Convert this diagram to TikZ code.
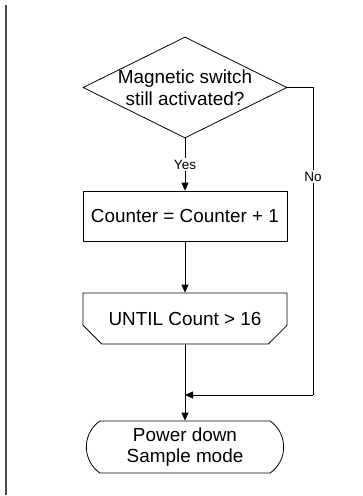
\documentclass[tikz,border=0pt]{standalone}
\usepackage{fontspec}
\setmainfont{Liberation Sans}
\usetikzlibrary{shapes.geometric,shapes.misc,arrows.meta}
\begin{document}
\begin{tikzpicture}[x=1pt, y=-1pt,
        every node/.style = {font=\fontsize{18.9}{21.5}\selectfont, align=center},
        flowline/.style = {line width=0.8pt},
        arrow/.style = {flowline, -{Triangle[length=8pt,width=7pt]}},
        decision/.style = {draw, flowline, diamond, aspect=2, inner sep=-2pt, minimum width=204pt, minimum height=101pt},
        process/.style = {draw, flowline, rectangle, minimum width=204pt, minimum height=50pt},
        loopend/.style = {draw, flowline, chamfered rectangle, chamfered rectangle corners={south west,south east}, chamfered rectangle xsep=12pt, chamfered rectangle ysep=12pt, inner sep=0pt, minimum width=204pt, minimum height=51pt},
        terminal/.style = {draw, flowline, rounded rectangle, rounded rectangle arc length=110, minimum width=204pt, minimum height=52pt},
        branch/.style = {font=\fontsize{13.5}{15}\selectfont, fill=white, inner sep=1.5pt}]
        \useasboundingbox (0,0) rectangle (362,496);
        \draw [line width=2pt, gray!60!black] (6,5) -- (6,495);
        \node [decision] (switch) at (185,87.5) {Magnetic switch\\still activated?};
        \node [process] (count) at (185,216) {Counter = Counter + 1};
        \node [loopend] (until) at (185,318.5) {UNTIL Count > 16};
        \node [terminal] (sleep) at (185,447) {Power down\\Sample mode};
        \coordinate (join) at (185,395);
        \coordinate (noturn) at (313,87.5);
        \coordinate (nodown) at (313,395);
        \draw [arrow] (switch.south) -- node [branch] {Yes} (count.north);
        \draw [arrow] (count.south) -- (until.north);
        \draw [arrow] (until.south) -- (sleep.north);
        \draw [flowline] (switch.east) -- (noturn) -- node [branch, pos=0.29] {No} (nodown);
        \draw [arrow] (nodown) -- (join);
    \end{tikzpicture}
\end{document}
